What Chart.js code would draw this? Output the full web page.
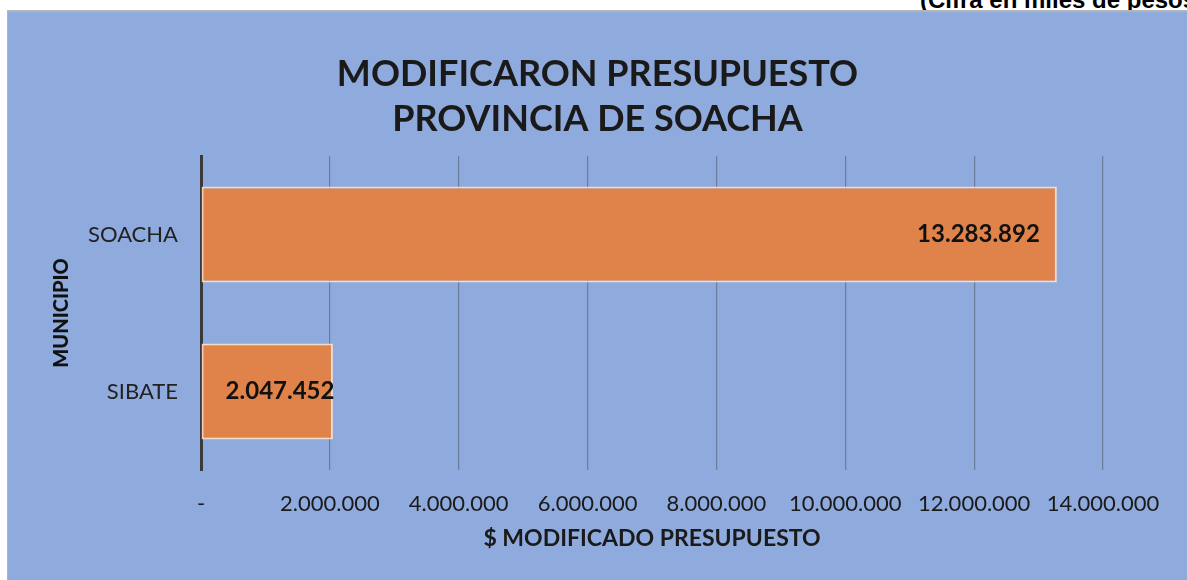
<!DOCTYPE html>
<html>
<head>
<meta charset="utf-8">
<script src="https://cdn.jsdelivr.net/npm/chart.js@4.4.1/dist/chart.umd.min.js"></script>
<style>
  html, body { margin: 0; padding: 0; background: #fff; overflow: hidden; }
  body { width: 1187px; height: 580px; position: relative; }
  #nota { position: absolute; left: 920px; top: -12px; font: bold 24px "Liberation Sans", Arial, sans-serif; line-height: 24px; white-space: nowrap; color: #000; }
  #caja { position: absolute; left: 7px; top: 10px; width: 1180px; height: 570px; background: #8FAADC; border-top: 2px solid #B4B4B4; border-left: 1px solid #B4B4B4; box-sizing: border-box; }
  #caja canvas { position: absolute; left: 0; top: 0; }
</style>
</head>
<body>
<div id="nota">(Cifra en miles de pesos)</div>
<div id="caja"><canvas id="myChart" width="1179" height="568"></canvas></div>
<script>
var municipios = ["SOACHA", "SIBATE"];
var modificado = [13283892, 2047452];
var ticksX = [0, 2000000, 4000000, 6000000, 8000000, 10000000, 12000000, 14000000];

function miles(v) {
  if (v === 0) return "-";
  return v.toString().replace(/\B(?=(\d{3})+(?!\d))/g, ".");
}

// etiquetas de valor dentro de cada barra
var etiquetas = {
  id: "etiquetas",
  afterDatasetsDraw: function (chart) {
    var ctx = chart.ctx;
    var meta = chart.getDatasetMeta(0);
    ctx.save();
    ctx.font = "bold 24px Lato";
    ctx.fillStyle = "#111";
    ctx.textBaseline = "middle";
    meta.data.forEach(function (bar, i) {
      var txt = miles(modificado[i]);
      var w = ctx.measureText(txt).width;
      if (bar.x - bar.base > w + 60) {
        ctx.textAlign = "right";
        ctx.fillText(txt, bar.x - 17, bar.y);
      } else {
        ctx.textAlign = "left";
        ctx.fillText(txt, bar.base + 24, bar.y);
      }
    });
    ctx.restore();
  }
};

var ctx = document.getElementById("myChart");
var myChart = new Chart(ctx, {
  type: "bar",
  data: {
    labels: municipios,
    datasets: [{
      label: "$ MODIFICADO PRESUPUESTO",
      data: modificado,
      backgroundColor: "#E0834B",
      borderColor: "rgba(255,225,200,0.9)",
      borderWidth: 2,
      borderSkipped: false,
      barPercentage: 0.61,
      categoryPercentage: 1
    }]
  },
  options: {
    indexAxis: "y",
    responsive: false,
    animation: false,
    layout: { padding: { left: 0, right: 0, top: 0, bottom: 28 } },
    plugins: {
      legend: { display: false },
      tooltip: { enabled: false },
      title: {
        display: true,
        text: ["MODIFICARON PRESUPUESTO", "PROVINCIA DE SOACHA"],
        color: "#1a1a1a",
        font: { family: "Lato", size: 36, weight: "bold", lineHeight: 1.25 },
        padding: { top: 40, bottom: 14 }
      }
    },
    scales: {
      x: {
        min: 0,
        max: 14000000,
        afterBuildTicks: function (axis) {
          axis.ticks = ticksX.map(function (v) { return { value: v }; });
        },
        afterFit: function (axis) { axis.height = 82; },
        grid: { color: "rgba(80,85,100,0.55)", lineWidth: 1.2, drawTicks: false },
        border: { display: false },
        ticks: {
          padding: 21,
          color: "#1a1a1a",
          font: { family: "Lato", size: 22 },
          maxRotation: 0,
          autoSkip: false,
          callback: function (v) { return miles(v); }
        },
        title: {
          display: true,
          text: "$ MODIFICADO PRESUPUESTO",
          color: "#1a1a1a",
          font: { family: "Lato", size: 23, weight: "bold" },
          padding: { top: 10, bottom: 0 }
        }
      },
      y: {
        afterFit: function (axis) { axis.width = 193; },
        grid: { display: false },
        border: { display: true, color: "#3a3a3a", width: 3 },
        ticks: {
          padding: 15,
          color: "#222",
          font: { family: "Lato", size: 22 }
        },
        title: {
          display: true,
          text: "MUNICIPIO",
          color: "#111",
          font: { family: "Lato", size: 20, weight: "900" },
          padding: { top: 42, bottom: 4 }
        }
      },
      // margen derecho del área de trazado
      yDer: {
        position: "right",
        afterFit: function (axis) { axis.width = 84; },
        grid: { display: false },
        border: { display: false },
        ticks: { display: false }
      }
    }
  },
  plugins: [etiquetas]
});
</script>
</body>
</html>
